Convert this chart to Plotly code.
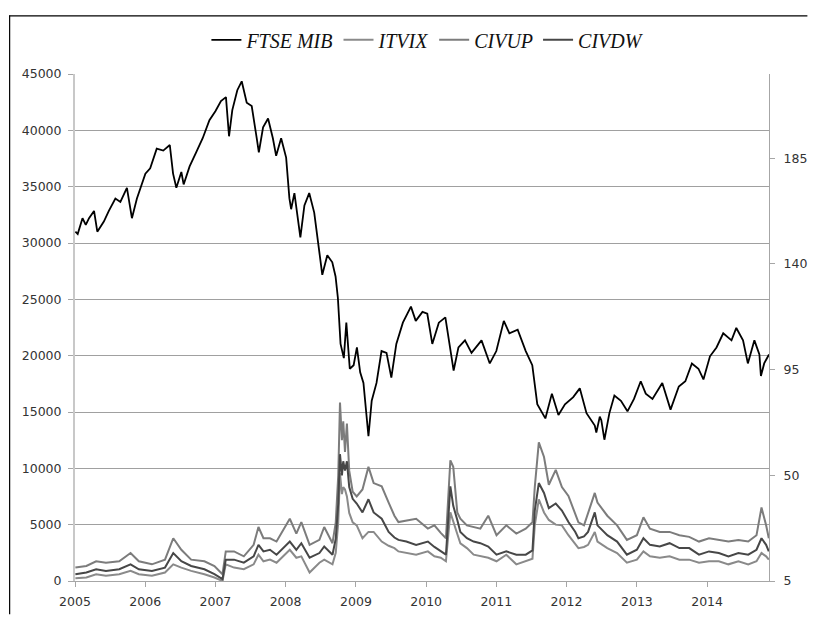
import plotly.graph_objects as go

# ---------------- data ----------------
ftse_dates = [
    "2005-01-03", "2005-01-15", "2005-02-09", "2005-02-26", "2005-03-15", "2005-04-10",
    "2005-04-27", "2005-05-31", "2005-06-26", "2005-07-30", "2005-08-25", "2005-09-28",
    "2005-10-24", "2005-11-19", "2006-01-02", "2006-01-27", "2006-03-02", "2006-04-05",
    "2006-05-09", "2006-05-26", "2006-06-12", "2006-07-08", "2006-07-20", "2006-08-20",
    "2006-09-23", "2006-10-27", "2006-12-01", "2007-01-01", "2007-01-30", "2007-02-25",
    "2007-03-13", "2007-03-30", "2007-04-25", "2007-05-18", "2007-06-13", "2007-07-09",
    "2007-08-04", "2007-08-15", "2007-09-06", "2007-10-02", "2007-10-27", "2007-11-13",
    "2007-12-09", "2008-01-04", "2008-01-21", "2008-01-30", "2008-02-16", "2008-03-18",
    "2008-04-08", "2008-05-03", "2008-05-29", "2008-06-24", "2008-07-10", "2008-08-05",
    "2008-08-31", "2008-09-17", "2008-09-29", "2008-10-13", "2008-10-30", "2008-11-12",
    "2008-11-30", "2008-12-20", "2009-01-06", "2009-01-23", "2009-02-09", "2009-03-07",
    "2009-03-24", "2009-04-18", "2009-05-14", "2009-06-09", "2009-07-04", "2009-07-30",
    "2009-09-02", "2009-10-14", "2009-11-08", "2009-12-13", "2010-01-07", "2010-02-02",
    "2010-03-08", "2010-04-11", "2010-05-07", "2010-05-24", "2010-06-18", "2010-07-22",
    "2010-08-25", "2010-10-16", "2010-11-28", "2011-01-01", "2011-02-09", "2011-03-10",
    "2011-04-22", "2011-06-03", "2011-07-07", "2011-08-02", "2011-09-13", "2011-10-17",
    "2011-11-20", "2011-12-24", "2012-02-05", "2012-03-10", "2012-04-14", "2012-05-27",
    "2012-06-04", "2012-06-22", "2012-06-30", "2012-07-16", "2012-08-11", "2012-09-06",
    "2012-10-10", "2012-11-13", "2012-12-17", "2013-01-21", "2013-02-16", "2013-03-23",
    "2013-05-13", "2013-06-25", "2013-08-07", "2013-09-10", "2013-10-14", "2013-11-17",
    "2013-12-13", "2014-01-16", "2014-02-19", "2014-03-26", "2014-05-08", "2014-06-02",
    "2014-07-07", "2014-08-01", "2014-09-04", "2014-09-30", "2014-10-08", "2014-10-25",
    "2014-11-19",
]
ftse_mib = [
    31000, 30800, 32200, 31600, 32200, 32850,
    31000, 31900, 32850, 33950, 33640, 34900,
    32200, 33950, 36160, 36630, 38370, 38200,
    38700, 36160, 34900, 36300, 35200, 36800,
    38050, 39300, 40900, 41700, 42600, 42950,
    39470, 41800, 43560, 44350, 42460, 42150,
    39300, 38050, 40260, 41050, 39300, 37740,
    39300, 37580, 33960, 33000, 34430, 30500,
    33330, 34430, 32700, 29550, 27180, 28920,
    28290, 27030, 25140, 21040, 19780, 22930,
    18840, 19150, 20730, 18520, 17580, 12850,
    16000, 17580, 20410, 20250, 18050, 21040,
    22930, 24350, 23090, 23880, 23720, 21040,
    22930, 23400, 20730, 18680, 20730, 21360,
    20250, 21360, 19310, 20410, 23090, 21990,
    22300, 20410, 19150, 15690, 14430, 16630,
    14740, 15690, 16320, 17100, 14900, 13800,
    13170, 14580, 14270, 12540, 14900, 16470,
    16000, 15060, 16160, 17730, 16630, 16160,
    17580, 15210, 17260, 17730, 19310, 18840,
    17890, 19940, 20730, 21990, 21360, 22460,
    21360, 19310, 21360, 20100, 18200, 19310,
    20100,
]

vol_dates = [
    "2005-01-03", "2005-03-01", "2005-04-21", "2005-06-11", "2005-08-19", "2005-10-17",
    "2005-11-29", "2006-02-05", "2006-04-14", "2006-05-27", "2006-07-08", "2006-08-28",
    "2006-11-05", "2006-12-27", "2007-02-07", "2007-02-24", "2007-04-08", "2007-05-29",
    "2007-07-19", "2007-08-13", "2007-09-08", "2007-10-12", "2007-11-15", "2008-01-23",
    "2008-02-26", "2008-03-23", "2008-05-05", "2008-06-25", "2008-07-20", "2008-09-01",
    "2008-09-18", "2008-10-01", "2008-10-10", "2008-10-20", "2008-10-27", "2008-11-05",
    "2008-11-15", "2008-11-27", "2008-12-15", "2009-01-05", "2009-02-04", "2009-03-07",
    "2009-04-03", "2009-05-15", "2009-06-20", "2009-07-20", "2009-08-10", "2009-09-20",
    "2009-11-10", "2010-01-10", "2010-02-13", "2010-03-18", "2010-04-14", "2010-05-07",
    "2010-05-22", "2010-06-12", "2010-06-28", "2010-08-01", "2010-09-05", "2010-10-10",
    "2010-11-20", "2011-01-02", "2011-02-22", "2011-04-15", "2011-06-03", "2011-07-08",
    "2011-07-20", "2011-08-10", "2011-09-06", "2011-10-01", "2011-11-06", "2011-12-08",
    "2012-01-11", "2012-02-15", "2012-03-03", "2012-04-01", "2012-04-22", "2012-05-27",
    "2012-06-10", "2012-07-31", "2012-09-20", "2012-11-10", "2013-01-01", "2013-02-04",
    "2013-03-10", "2013-04-30", "2013-06-20", "2013-08-10", "2013-09-30", "2013-11-20",
    "2014-01-11", "2014-03-03", "2014-04-22", "2014-06-13", "2014-08-03", "2014-09-15",
    "2014-10-11", "2014-11-04", "2014-11-18",
]
civdw = [  # dark middle line
    7.9, 8.6, 10.0, 9.3, 10.0, 12.1,
    10.0, 9.3, 10.7, 16.9, 13.4, 11.4,
    10.0, 7.9, 5.8, 14.1, 14.1, 12.8,
    15.5, 20.4, 17.6, 18.3, 16.2, 21.8,
    18.3, 21.1, 14.9, 16.9, 19.7, 16.2,
    23.0, 38.0, 59.0, 50.0, 56.0, 52.0,
    56.0, 45.0, 40.0, 38.0, 34.2, 39.8,
    34.2, 31.5, 25.9, 23.5, 22.5, 21.8,
    20.4, 21.8, 19.5, 17.6, 16.2, 45.3,
    37.0, 31.0, 25.9, 23.2, 21.8, 21.1,
    19.7, 16.2, 17.6, 16.2, 16.2, 18.0,
    35.0, 46.7, 42.5, 36.0, 38.0, 35.0,
    30.1, 26.0, 23.2, 24.0, 25.9, 34.2,
    28.7, 24.5, 21.8, 16.2, 18.3, 23.2,
    20.4, 19.7, 21.1, 19.0, 19.0, 16.2,
    17.6, 16.9, 15.5, 16.9, 16.2, 18.3,
    23.2, 20.4, 17.6,
]
civup = [  # upper line
    10.7, 11.4, 13.4, 12.8, 13.4, 16.9,
    13.4, 12.1, 14.1, 23.2, 18.3, 14.1,
    13.4, 11.4, 7.9, 17.6, 17.6, 15.5,
    20.4, 28.0, 23.2, 23.2, 21.8, 31.5,
    25.2, 30.1, 20.4, 22.5, 28.0, 21.1,
    30.0, 50.0, 81.0, 65.0, 73.0, 60.0,
    72.0, 52.0, 43.0, 41.0, 44.0, 53.6,
    46.7, 45.3, 38.4, 32.8, 30.1, 30.8,
    31.5, 27.3, 28.7, 25.5, 23.2, 56.4,
    53.6, 34.2, 31.5, 28.7, 28.0, 27.3,
    32.8, 24.5, 28.7, 25.2, 27.3, 30.0,
    45.0, 64.0, 57.8, 46.0, 52.3, 45.0,
    41.2, 34.2, 30.0, 28.7, 34.2, 42.5,
    38.4, 32.8, 28.7, 22.5, 24.5, 32.1,
    27.3, 25.9, 25.9, 24.5, 23.8, 21.8,
    23.2, 22.5, 21.8, 22.5, 21.8, 24.5,
    36.3, 28.7, 23.2,
]
itvix = [  # lower line
    6.2, 6.5, 7.9, 7.2, 7.9, 9.3,
    7.9, 7.2, 8.6, 12.1, 10.7, 9.3,
    7.9, 6.5, 5.0, 12.1, 10.7, 10.0,
    12.1, 16.2, 13.4, 14.1, 12.8, 18.3,
    14.9, 15.5, 8.6, 12.8, 14.1, 12.1,
    17.0, 30.0, 51.0, 42.0, 45.0, 44.0,
    41.0, 34.0, 30.0, 28.7, 23.2, 25.9,
    25.9, 21.8, 20.0, 19.0, 17.6, 17.0,
    16.2, 17.6, 15.5, 14.9, 13.4, 34.2,
    30.0, 25.0, 21.0, 19.0, 16.2, 15.5,
    14.9, 13.4, 16.2, 12.1, 13.4, 14.5,
    28.7, 39.8, 34.2, 31.0, 29.0, 28.7,
    24.5, 21.0, 19.0, 19.5, 20.4, 25.9,
    21.8, 19.0, 16.9, 12.8, 14.1, 17.6,
    15.5, 14.9, 15.5, 14.1, 14.1, 12.8,
    13.4, 13.4, 12.1, 13.4, 12.1, 13.4,
    16.9, 15.5, 14.1,
]

year_ticks = ["2005-01-01", "2006-01-01", "2007-01-01", "2008-01-01", "2009-01-01",
              "2010-01-01", "2011-01-01", "2012-01-01", "2013-01-01", "2014-01-01"]
year_labels = ["2005", "2006", "2007", "2008", "2009", "2010", "2011", "2012", "2013", "2014"]

# ---------------- figure ----------------
# the page places the figure 8px from the top-left corner
W, H = 811, 613
L, R, T, B = 67, 39, 60, 34
pw, ph = W - L - R, H - T - B


def px_x(p):
    return (p - L) / pw


def px_y(p):
    return (H - B - p) / ph


fig = go.Figure()
fig.add_trace(go.Scatter(x=ftse_dates, y=ftse_mib, name="FTSE MIB", mode="lines",
                         line=dict(color="#000000", width=1.8), yaxis="y"))
fig.add_trace(go.Scatter(x=vol_dates, y=itvix, name="ITVIX", mode="lines",
                         line=dict(color="#8a8a8a", width=2), yaxis="y2"))
fig.add_trace(go.Scatter(x=vol_dates, y=civup, name="CIVUP", mode="lines",
                         line=dict(color="#7c7c7c", width=2), yaxis="y2"))
fig.add_trace(go.Scatter(x=vol_dates, y=civdw, name="CIVDW", mode="lines",
                         line=dict(color="#474747", width=2), yaxis="y2"))

tickfont = dict(family="DejaVu Sans", size=12.5, color="#333333")

fig.update_layout(
    width=W, height=H,
    margin=dict(l=L, r=R, t=T, b=B),
    paper_bgcolor="white", plot_bgcolor="white",
    showlegend=True,
    legend=dict(orientation="h", x=0.5 + 6 / pw, xanchor="center", y=px_y(25), yanchor="middle",
                font=dict(family="Liberation Serif", size=20, color="#111111", style="italic"),
                itemwidth=30, bgcolor="rgba(0,0,0,0)", tracegroupgap=0),
    xaxis=dict(type="date", range=["2005-01-01", "2014-11-19"],
               tickvals=year_ticks, ticktext=year_labels,
               showgrid=False, zeroline=False,
               showline=True, linecolor="#a6a6a6", linewidth=1,
               ticks="outside", ticklen=5, tickcolor="#a6a6a6",
               ticklabelstandoff=4, tickfont=tickfont),
    yaxis=dict(range=[0, 45000], tick0=0, dtick=5000,
               showgrid=True, gridcolor="#a0a0a0", gridwidth=1, zeroline=False,
               showline=True, linecolor="#c8c8c8", linewidth=2,
               ticks="outside", ticklen=5, tickcolor="#a6a6a6",
               ticklabelstandoff=4, tickfont=tickfont, tickformat="d"),
    yaxis2=dict(range=[5, 220.9], tick0=5, dtick=45, overlaying="y", side="right",
                showgrid=False, zeroline=False,
                showline=True, linecolor="#a6a6a6", linewidth=1,
                ticks="outside", ticklen=5, tickcolor="#a6a6a6",
                ticklabelstandoff=6, tickfont=tickfont),
    shapes=[
        dict(type="line", xref="paper", yref="paper",
             x0=px_x(0.6), x1=px_x(0.6), y0=px_y(0), y1=px_y(H),
             line=dict(color="#000000", width=1.2), layer="below"),
        dict(type="line", xref="paper", yref="paper",
             x0=px_x(0), x1=px_x(W), y0=px_y(0.6), y1=px_y(0.6),
             line=dict(color="#000000", width=1.2), layer="below"),
    ],
)

fig.write_html("out.html")
